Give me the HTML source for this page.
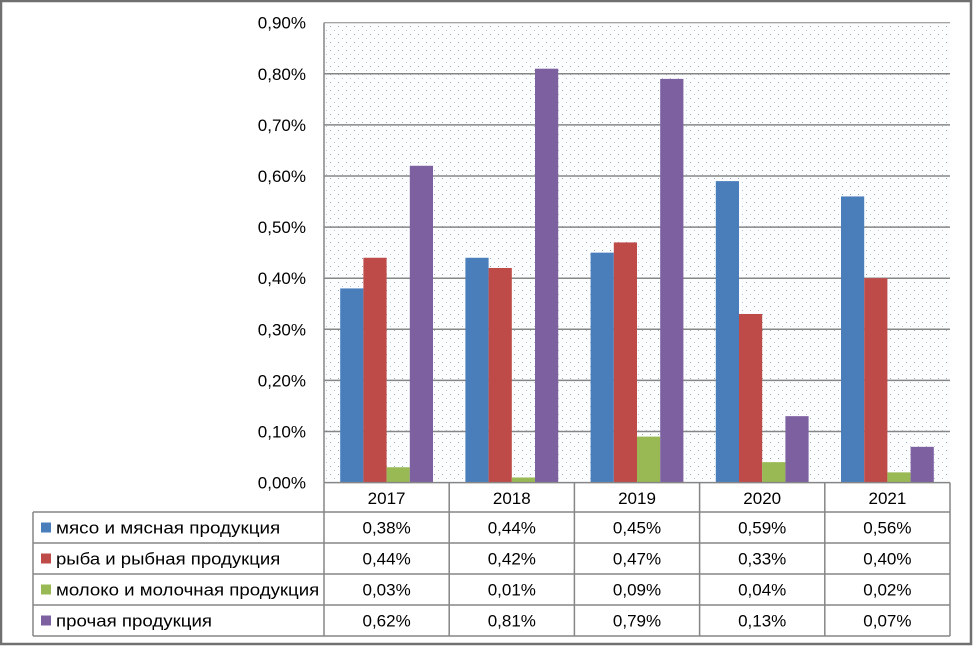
<!DOCTYPE html>
<html><head><meta charset="utf-8"><style>
html,body{margin:0;padding:0;background:#fff;}
svg{display:block;font-family:"Liberation Sans","DejaVu Sans",sans-serif;}
</style></head><body>
<svg id="chart" width="974" height="647" viewBox="0 0 974 647">
<defs>
<pattern id="dots" width="8" height="8" patternUnits="userSpaceOnUse">
<rect width="8" height="8" fill="#fbfdff"/>
<rect x="2" y="2" width="1" height="1" fill="#9aa6b4"/>
<rect x="6" y="6" width="1" height="1" fill="#b8c2cc"/>
</pattern>
</defs>
<rect x="1" y="1" width="970" height="643" fill="#fff" stroke="#707070" stroke-width="2.5"/>
<rect x="324" y="22.7" width="626" height="459.9" fill="url(#dots)"/>
<g id="grid"></g>
<g id="bars"></g>
<g id="ylabels"></g>
<g id="table"></g>
</svg>
<script>
const categories = ["2017","2018","2019","2020","2021"];
const seriesNames = ["мясо и мясная продукция","рыба и рыбная продукция","молоко и молочная продукция","прочая продукция"];
const seriesColors = ["#4a7ebb","#be4b48","#98b954","#7d60a0"];
const meat = [0.38,0.44,0.45,0.59,0.56];
const fish = [0.44,0.42,0.47,0.33,0.40];
const milk = [0.03,0.01,0.09,0.04,0.02];
const other = [0.62,0.81,0.79,0.13,0.07];
const yTicks = [0,0.1,0.2,0.3,0.4,0.5,0.6,0.7,0.8,0.9];
const series = [meat,fish,milk,other];

const NS="http://www.w3.org/2000/svg";
const X0=324, X1=950, Y0=482.6, YTOP=22.7, YMAX=0.9;
const band=(X1-X0)/categories.length;
function y(v){return Y0-(v/YMAX)*(Y0-YTOP);}
function xBand(i){return X0+i*band;}
function fmt(v){return v.toFixed(2).replace('.',',')+'%';}
function mk(tag,attrs,parent){const e=document.createElementNS(NS,tag);for(const k in attrs)e.setAttribute(k,attrs[k]);parent.appendChild(e);return e;}

const grid=document.getElementById('grid');
const yl=document.getElementById('ylabels');
yTicks.forEach(t=>{
  if(t>0&&t<YMAX){const l=mk('line',{x1:X0,x2:X1,y1:y(t),y2:y(t),stroke:'#868686','stroke-width':1.5},grid);
  
  }
  const tx=mk('text',{x:306,y:y(t)+6,'text-anchor':'end','font-size':17,fill:'#000'},yl);
  tx.textContent=fmt(t);
  
  
});
const ax=mk('line',{x1:X0,x2:X0,y1:YTOP,y2:Y0,stroke:'#868686','stroke-width':1.5},grid);


const bt=mk('line',{x1:X0,x2:X1,y1:YTOP,y2:YTOP,stroke:'#868686','stroke-width':1},grid);



const bars=document.getElementById('bars');
const bw=23.2;
series.forEach((s,si)=>{
  s.forEach((v,i)=>{
    const x=xBand(i)+(band-4*bw)/2+si*bw;
    const r=mk('rect',{x:x,y:y(v),width:bw,height:Y0-y(v),fill:seriesColors[si]},bars);
    
    
  });
});

const tb=document.getElementById('table');
const rowY=[482.6,512,543,574,605,636];
const TL=33;
rowY.forEach((ry,k)=>{
  const l=mk('line',{x1:k===0?X0:TL,x2:X1,y1:ry,y2:ry,stroke:'#868686','stroke-width':1.5},tb);
  
  
});
const vl=mk('line',{x1:TL,x2:TL,y1:512,y2:636,stroke:'#868686','stroke-width':1.5},tb);


for(let i=0;i<=categories.length;i++){
  const l=mk('line',{x1:xBand(i),x2:xBand(i),y1:Y0,y2:636,stroke:'#868686','stroke-width':1.5},tb);
  
  
}
categories.forEach((c,i)=>{
  const t=mk('text',{x:xBand(i)+band/2,y:504,'text-anchor':'middle','font-size':17},tb);
  t.textContent=c;
  
  
});
series.forEach((s,si)=>{
  const cy=(rowY[si+1]+rowY[si+2])/2;
  const sw=mk('rect',{x:41,y:cy-5,width:10,height:10,fill:seriesColors[si]},tb);
  
  
  const n=mk('text',{x:56,y:cy+6,'font-size':17,textLength:seriesNames[si].length*9.75,lengthAdjust:'spacingAndGlyphs'},tb);
  n.textContent=seriesNames[si];
  
  
  s.forEach((v,i)=>{
    const t=mk('text',{x:xBand(i)+band/2,y:cy+6,'text-anchor':'middle','font-size':17},tb);
    t.textContent=fmt(v);
    
    
  });
});
</script>
</body></html>
